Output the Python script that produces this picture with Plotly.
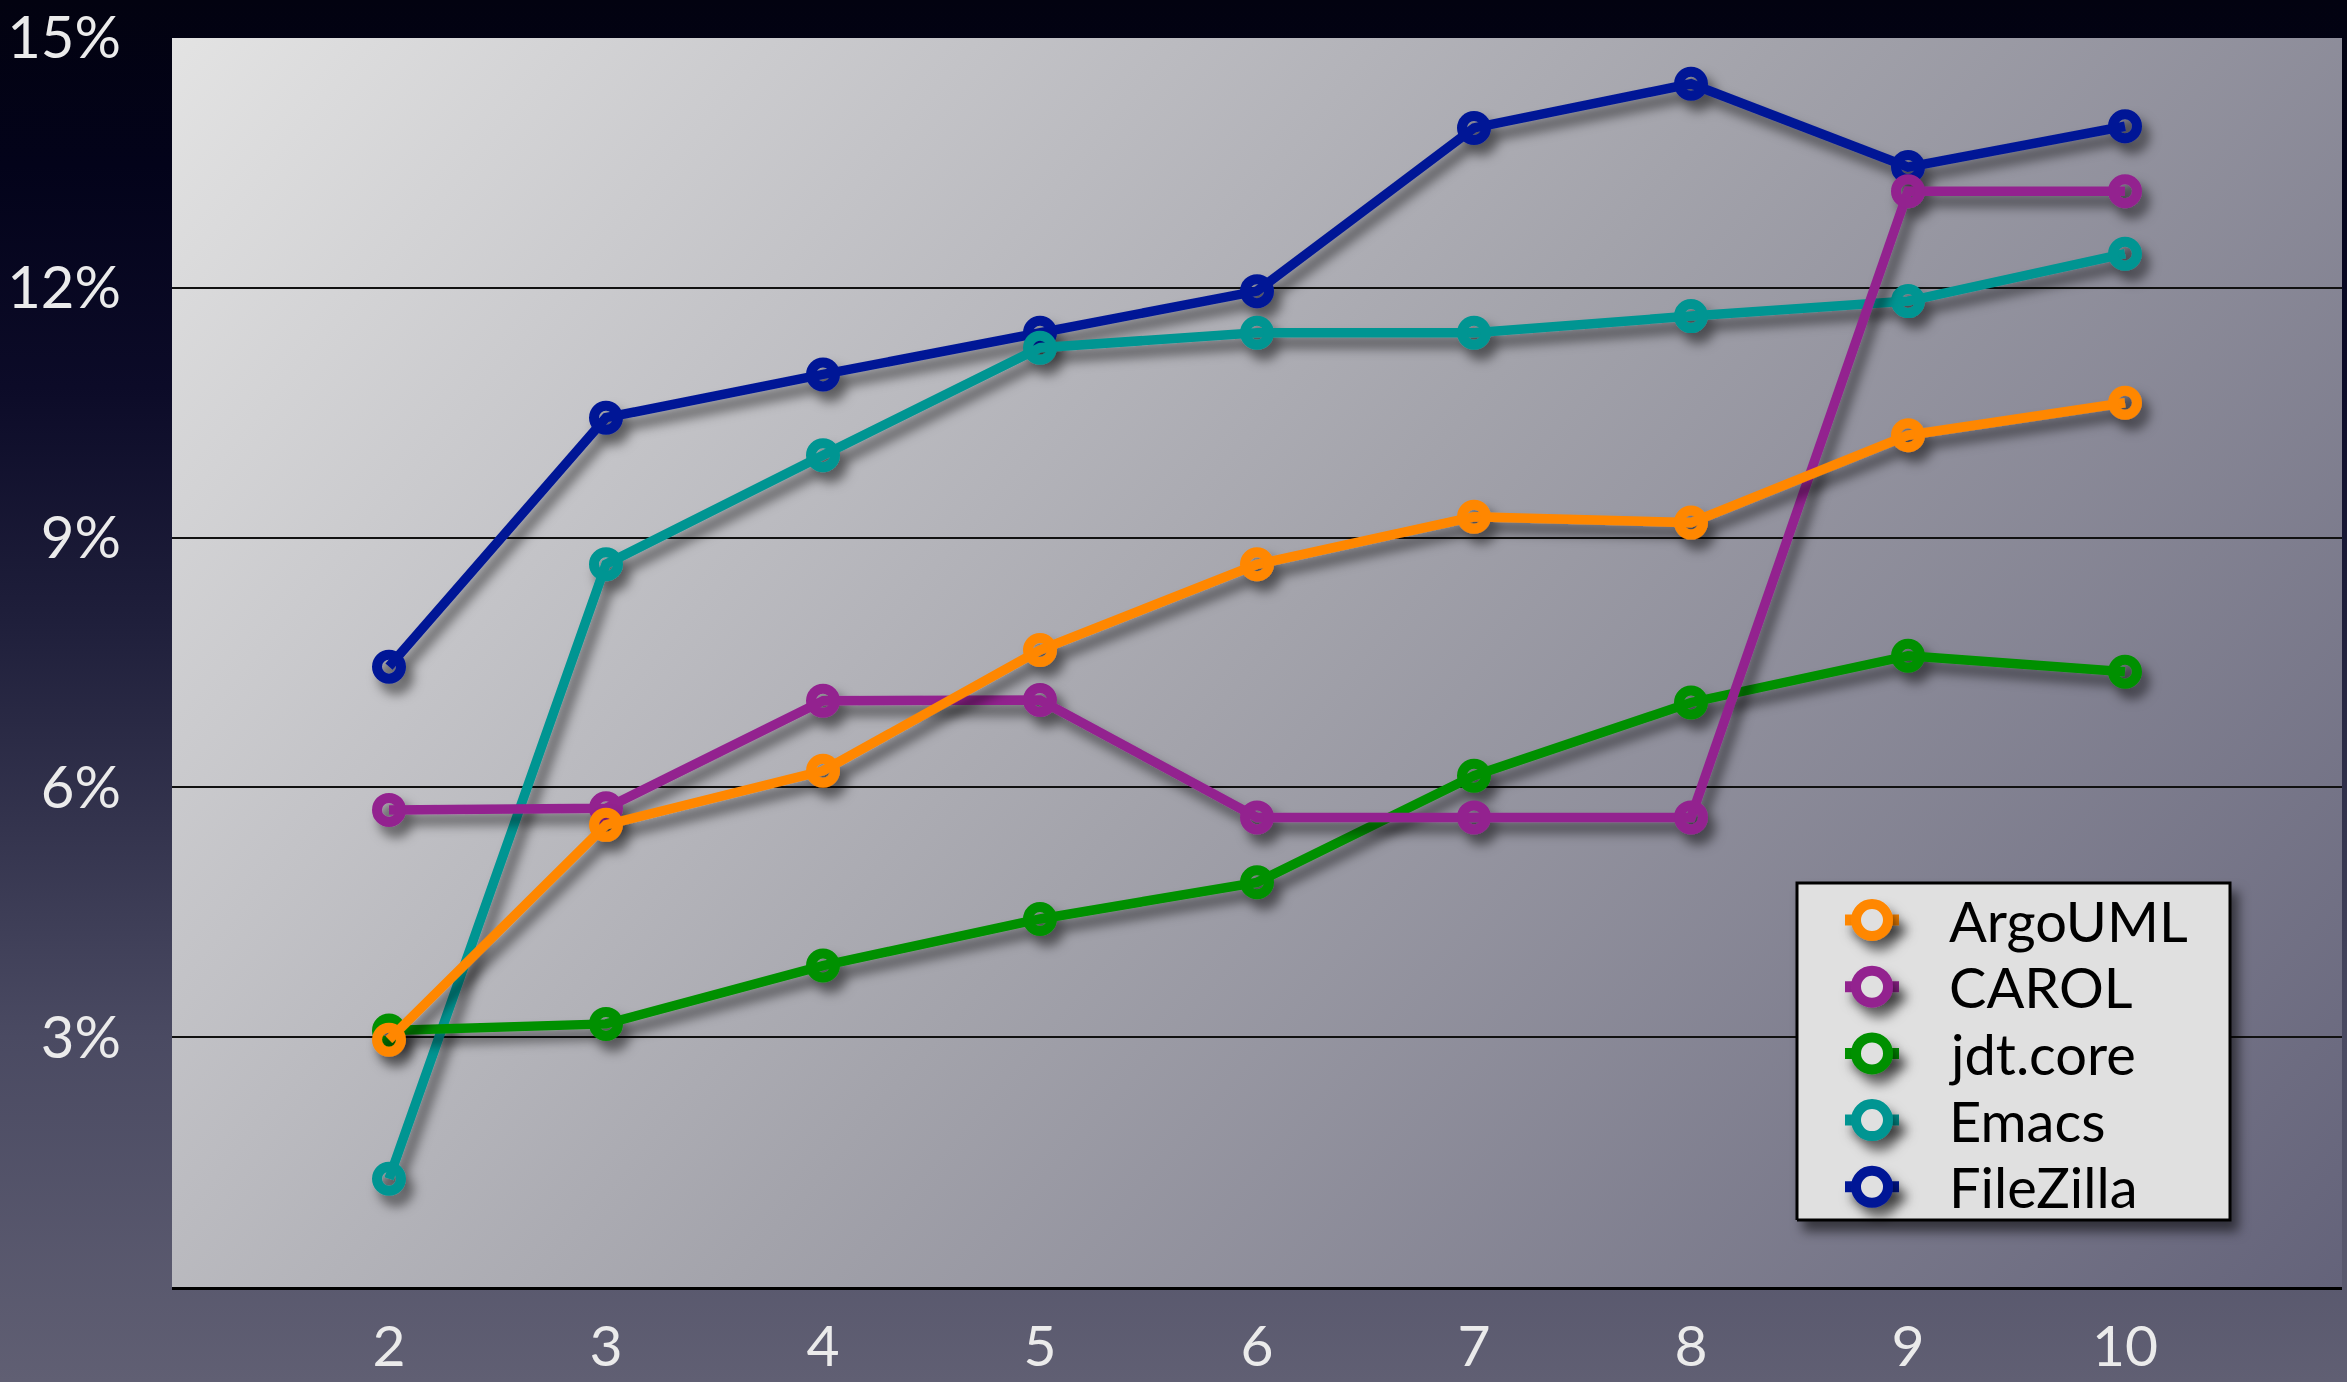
import base64
import plotly.graph_objects as go

# ---- data ---------------------------------------------------------------
x_vals = [2, 3, 4, 5, 6, 7, 8, 9, 10]
x_tick_text = ["2", "3", "4", "5", "6", "7", "8", "9", "10"]
y_tick_vals = [3, 6, 9, 12, 15]
y_tick_text = ["3%", "6%", "9%", "12%", "15%"]

series_names = ["ArgoUML", "CAROL", "jdt.core", "Emacs", "FileZilla"]
argouml = [2.97, 5.55, 6.2, 7.65, 8.68, 9.25, 9.18, 10.23, 10.62]
carol = [5.73, 5.75, 7.04, 7.05, 5.64, 5.64, 5.64, 13.16, 13.16]
jdt_core = [3.08, 3.16, 3.86, 4.42, 4.86, 6.14, 7.02, 7.58, 7.39]
emacs = [1.3, 8.68, 9.99, 11.28, 11.46, 11.46, 11.66, 11.84, 12.41]
filezilla = [7.45, 10.44, 10.96, 11.46, 11.96, 13.92, 14.45, 13.45, 13.94]
series_values = [argouml, carol, jdt_core, emacs, filezilla]
series_colors = ["#ff8700", "#93238f", "#009000", "#009592", "#001996"]

# ---- layout constants --------------------------------------------------
W, H = 2347, 1382
M_L, M_R, M_T, M_B = 172, 5, 38, 95
PW, PH = W - M_L - M_R, H - M_T - M_B
FONT = "Lato, 'Open Sans', sans-serif"
LEGEND_BG = "#e0e0e0"


def svg_uri(body):
    svg = ("<svg xmlns='http://www.w3.org/2000/svg' width='100' height='100' "
           "viewBox='0 0 100 100' preserveAspectRatio='none'>" + body + "</svg>")
    return "data:image/svg+xml;base64," + base64.b64encode(svg.encode()).decode()


page_bg = svg_uri(
    "<defs><linearGradient id='g' x1='0' y1='0' x2='0' y2='1'>"
    "<stop offset='0' stop-color='#020210'/>"
    "<stop offset='0.12' stop-color='#03031a'/>"
    "<stop offset='0.28' stop-color='#0c0b28'/>"
    "<stop offset='0.45' stop-color='#1f1f3b'/>"
    "<stop offset='0.6' stop-color='#34344e'/>"
    "<stop offset='0.75' stop-color='#4a4a62'/>"
    "<stop offset='1' stop-color='#605f73'/>"
    "</linearGradient></defs><rect width='100' height='100' fill='url(#g)'/>"
)
plot_bg = svg_uri(
    "<defs><linearGradient id='p' x1='0' y1='0' x2='1.2' y2='0.586'>"
    "<stop offset='0' stop-color='#e3e3e3'/>"
    "<stop offset='0.5' stop-color='#a3a3ab'/>"
    "<stop offset='1' stop-color='#64637a'/>"
    "</linearGradient></defs><rect width='100' height='100' fill='url(#p)'/>"
)

fig = go.Figure()

# series are drawn last-to-first so ArgoUML ends up on top
for name, vals, col in reversed(list(zip(series_names, series_values, series_colors))):
    fig.add_trace(go.Scatter(
        x=x_vals, y=vals, name=name, mode="lines+markers",
        line=dict(color=col, width=9.5),
        marker=dict(symbol="circle-open", size=24, color=col,
                    line=dict(width=10, color=col)),
        showlegend=False, hoverinfo="skip",
    ))

# ---- hand-built legend on a pixel-scaled overlay axis --------------------
box_x0, box_x1, box_y0, box_y1 = 1625, 2058, 67, 404
row_top, row_step = 367, 66.7
mark_x, stub_half, text_x = 1700, 27, 1775

fig.add_trace(go.Scatter(
    x=[box_x0, box_x1, box_x1, box_x0, box_x0],
    y=[box_y0, box_y0, box_y1, box_y1, box_y0],
    mode="lines", fill="toself", fillcolor=LEGEND_BG,
    line=dict(color="#000000", width=3),
    xaxis="x2", yaxis="y2", showlegend=False, hoverinfo="skip",
))
for i, (name, col) in enumerate(zip(series_names, series_colors)):
    yc = row_top - i * row_step
    fig.add_trace(go.Scatter(
        x=[mark_x - stub_half, mark_x + stub_half], y=[yc, yc], mode="lines",
        line=dict(color=col, width=11),
        xaxis="x2", yaxis="y2", showlegend=False, hoverinfo="skip",
    ))
    fig.add_trace(go.Scatter(
        x=[mark_x], y=[yc], mode="markers",
        marker=dict(symbol="circle", size=32, color=LEGEND_BG,
                    line=dict(width=10, color=col)),
        xaxis="x2", yaxis="y2", showlegend=False, hoverinfo="skip",
    ))
    fig.add_annotation(
        x=text_x, y=yc, xref="x2", yref="y2", text=name, showarrow=False,
        xanchor="left", yanchor="middle",
        font=dict(family=FONT, size=56, color="#000000"),
    )

fig.update_layout(
    width=W, height=H,
    margin=dict(l=M_L, r=M_R, t=M_T, b=M_B, pad=0),
    paper_bgcolor="#05051a", plot_bgcolor="rgba(0,0,0,0)",
    showlegend=False,
    font=dict(family=FONT, size=58, color="#ebebeb"),
    images=[
        dict(source=page_bg, xref="paper", yref="paper",
             x=-M_L / PW, y=1 + M_T / PH, sizex=W / PW, sizey=H / PH,
             xanchor="left", yanchor="top", sizing="stretch", layer="below"),
        dict(source=plot_bg, xref="paper", yref="paper",
             x=0, y=1, sizex=1, sizey=1,
             xanchor="left", yanchor="top", sizing="stretch", layer="below"),
    ],
    xaxis=dict(
        range=[1, 11], tickvals=x_vals, ticktext=x_tick_text,
        showgrid=False, zeroline=False, ticks="", automargin=False,
        showline=True, linecolor="#000000", linewidth=3,
        ticklabelstandoff=8,
        tickfont=dict(family=FONT, size=57, color="#ebebeb"),
    ),
    yaxis=dict(
        range=[0, 15], tickvals=y_tick_vals, ticktext=y_tick_text,
        showgrid=True, gridcolor="#111111", gridwidth=2,
        zeroline=False, showline=False, ticks="", automargin=False,
        ticklabelstandoff=50,
        tickfont=dict(family=FONT, size=58, color="#ebebeb"),
    ),
    xaxis2=dict(range=[0, PW], overlaying="x", anchor="y2", visible=False,
                automargin=False),
    yaxis2=dict(range=[0, PH], overlaying="y", anchor="x2", visible=False,
                automargin=False),
)

# soft drop shadow under each data series
shadow_js = """
var gd = document.getElementById('{plot_id}');
var svg = gd.querySelector('svg.main-svg');
var ns = 'http://www.w3.org/2000/svg';
var defs = svg.querySelector('defs');
if (!defs) { defs = document.createElementNS(ns, 'defs'); svg.insertBefore(defs, svg.firstChild); }
var f = document.createElementNS(ns, 'filter');
f.setAttribute('id', 'lineshade');
f.setAttribute('filterUnits', 'userSpaceOnUse');
f.setAttribute('x', '0'); f.setAttribute('y', '0');
f.setAttribute('width', '2347'); f.setAttribute('height', '1382');
var ds = document.createElementNS(ns, 'feDropShadow');
ds.setAttribute('dx', '7'); ds.setAttribute('dy', '10');
ds.setAttribute('stdDeviation', '6');
ds.setAttribute('flood-color', '#000000');
ds.setAttribute('flood-opacity', '0.55');
f.appendChild(ds); defs.appendChild(f);
gd.querySelectorAll('.cartesianlayer .subplot.xy .scatterlayer .trace').forEach(function (g) {
  g.setAttribute('filter', 'url(#lineshade)');
});
"""

fig.write_html("out.html", post_script=shadow_js)
